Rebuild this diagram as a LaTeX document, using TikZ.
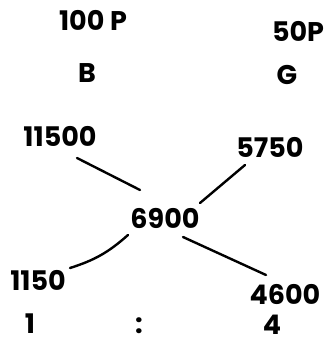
\documentclass[tikz,border=0pt]{standalone}
\usepackage{fontspec}
\setmainfont{Poppins}
\begin{document}
\begin{tikzpicture}[x=1pt,y=1pt,
  lbl/.style={inner sep=0pt,font=\fontsize{27}{29}\selectfont\bfseries},
  stroke/.style={line width=2.4pt,line cap=round}]
\useasboundingbox (0,0) rectangle (328,345);
\node[lbl] (p1) at (93,325) {100 P};
\node[lbl] (p2) at (298,314) {50P};
\node[lbl] (b) at (87,272) {B};
\node[lbl] (g) at (287,270) {G};
\node[lbl] (n1) at (60,209) {11500};
\node[lbl] (n2) at (270,198) {5750};
\node[lbl] (m) at (165,127) {6900};
\node[lbl] (d1) at (38,65) {1150};
\node[lbl] (d2) at (285,51) {4600};
\node[lbl] (r1) at (30,21) {1};
\node[lbl] (rc) at (139,19) {:};
\node[lbl] (r2) at (272,20) {4};
\coordinate (a1) at (77,187);
\coordinate (a2) at (140,155);
\coordinate (b1) at (245,180);
\coordinate (b2) at (200,142);
\coordinate (c1) at (128,110);
\coordinate (c2) at (70,77);
\coordinate (e1) at (183,108);
\coordinate (e2) at (266,70);
\draw[stroke] (a1) -- (a2);
\draw[stroke] (b1) -- (b2);
\draw[stroke] (c1) to[bend left=12] (c2);
\draw[stroke] (e1) -- (e2);
\end{tikzpicture}
\end{document}
